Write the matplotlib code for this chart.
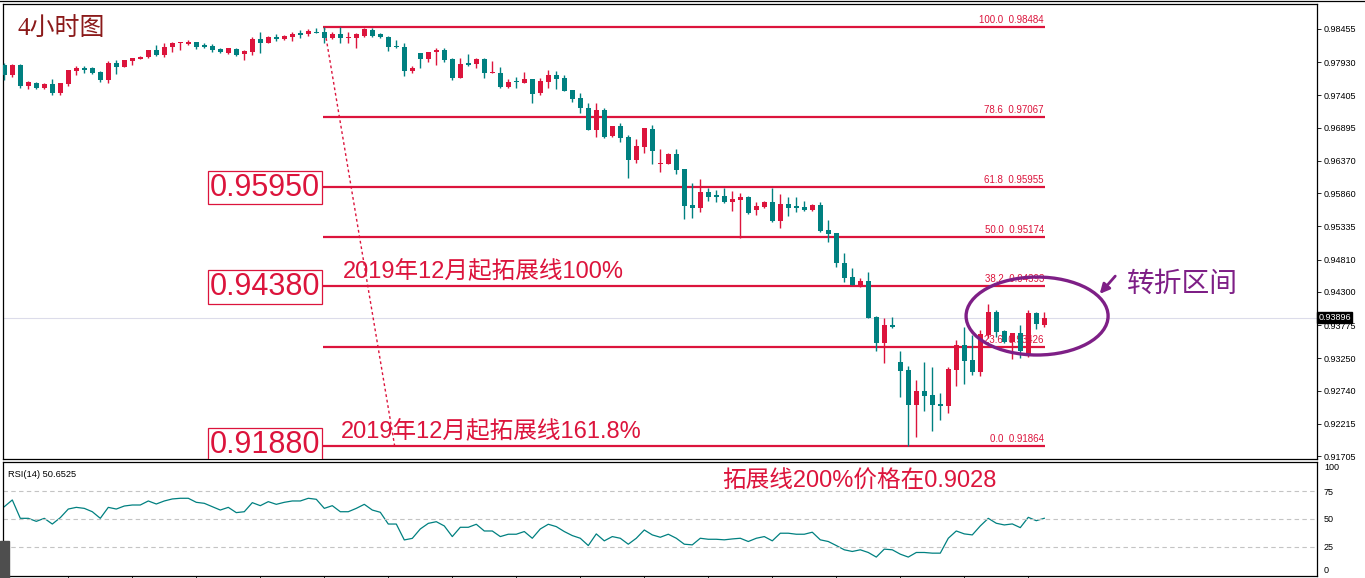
import numpy as np
import matplotlib.pyplot as plt
import matplotlib.transforms as mtransforms
from matplotlib.patches import Ellipse, FancyArrowPatch, Rectangle
from matplotlib.lines import Line2D

# 4H candles (oldest first)
opens = [0.97886, 0.97728, 0.97886, 0.97554, 0.97602, 0.97523, 0.97586, 0.97444, 0.97586, 0.97791,
         0.97823, 0.97839, 0.97775, 0.97649, 0.97918, 0.97854, 0.97949, 0.97981, 0.98012, 0.98123,
         0.98044, 0.98170, 0.98226, 0.98218, 0.98249, 0.98186, 0.98186, 0.98139, 0.98076, 0.98139,
         0.98060, 0.98091, 0.98297, 0.98234, 0.98328, 0.98297, 0.98328, 0.98376, 0.98376, 0.98407,
         0.98407, 0.98313, 0.98376, 0.98305, 0.98313, 0.98344, 0.98439, 0.98376, 0.98328, 0.98170,
         0.98170, 0.97791, 0.98076, 0.97981, 0.98091, 0.98123, 0.97981, 0.97681, 0.97902, 0.97902,
         0.97981, 0.97760, 0.97760, 0.97538, 0.97617, 0.97602, 0.97665, 0.97444, 0.97617, 0.97728,
         0.97681, 0.97491, 0.97365, 0.97207, 0.96859, 0.97175, 0.96764, 0.96922, 0.96749, 0.96385,
         0.96590, 0.96875, 0.96322, 0.96322, 0.96480, 0.96243, 0.95674, 0.95627, 0.95879, 0.95816,
         0.95816, 0.95721, 0.95753, 0.95800, 0.95595, 0.95642, 0.95721, 0.95421, 0.95690, 0.95642,
         0.95642, 0.95595, 0.95674, 0.95279, 0.95232, 0.94759, 0.94537, 0.94410, 0.94473, 0.93905,
         0.93494, 0.93778, 0.93193, 0.93067, 0.92515, 0.92735, 0.92672, 0.92531, 0.92499, 0.93067,
         0.93462, 0.93225, 0.93035, 0.93620, 0.93983, 0.93683, 0.93517, 0.93652, 0.93304, 0.93967,
         0.93778]
highs = [0.97918, 0.97902, 0.97902, 0.97633, 0.97617, 0.97602, 0.97665, 0.97602, 0.97807, 0.97870,
         0.97870, 0.97854, 0.97791, 0.97949, 0.97965, 0.97965, 0.97997, 0.98028, 0.98123, 0.98202,
         0.98234, 0.98249, 0.98249, 0.98281, 0.98249, 0.98234, 0.98218, 0.98155, 0.98155, 0.98155,
         0.98123, 0.98328, 0.98407, 0.98344, 0.98376, 0.98360, 0.98407, 0.98439, 0.98455, 0.98471,
         0.98484, 0.98407, 0.98480, 0.98407, 0.98392, 0.98471, 0.98471, 0.98392, 0.98344, 0.98281,
         0.98234, 0.97870, 0.98076, 0.98091, 0.98155, 0.98155, 0.97997, 0.97997, 0.98060, 0.97997,
         0.97997, 0.97949, 0.97854, 0.97665, 0.97696, 0.97775, 0.97665, 0.97681, 0.97807, 0.97791,
         0.97728, 0.97491, 0.97444, 0.97286, 0.97286, 0.97207, 0.96922, 0.96970, 0.96780, 0.96717,
         0.96891, 0.96938, 0.96559, 0.96496, 0.96559, 0.96243, 0.96022, 0.96085, 0.95943, 0.95911,
         0.95943, 0.95895, 0.95864, 0.95816, 0.95721, 0.95737, 0.95943, 0.95848, 0.95800, 0.95800,
         0.95737, 0.95690, 0.95721, 0.95437, 0.95232, 0.94915, 0.94679, 0.94521, 0.94615, 0.93921,
         0.93889, 0.93905, 0.93367, 0.93130, 0.92909, 0.93193, 0.93115, 0.92704, 0.93115, 0.93541,
         0.93747, 0.93620, 0.93699, 0.94110, 0.94015, 0.93699, 0.93652, 0.93778, 0.94015, 0.93983,
         0.93983]
lows = [0.97649, 0.97696, 0.97523, 0.97507, 0.97507, 0.97507, 0.97412, 0.97412, 0.97554, 0.97728,
        0.97760, 0.97744, 0.97617, 0.97602, 0.97744, 0.97854, 0.97886, 0.97981, 0.97997, 0.98028,
        0.98012, 0.98091, 0.98123, 0.98202, 0.98139, 0.98155, 0.98091, 0.98076, 0.98060, 0.98028,
        0.97965, 0.98044, 0.98076, 0.98234, 0.98265, 0.98281, 0.98265, 0.98313, 0.98344, 0.98392,
        0.98234, 0.98297, 0.98234, 0.98234, 0.98155, 0.98328, 0.98328, 0.98313, 0.98107, 0.98155,
        0.97712, 0.97760, 0.97839, 0.97933, 0.97886, 0.97933, 0.97649, 0.97681, 0.97870, 0.97839,
        0.97681, 0.97760, 0.97523, 0.97523, 0.97523, 0.97602, 0.97286, 0.97412, 0.97523, 0.97507,
        0.97475, 0.97301, 0.97128, 0.96859, 0.96749, 0.96733, 0.96749, 0.96669, 0.96101, 0.96338,
        0.96496, 0.96322, 0.96195, 0.96322, 0.96164, 0.95453, 0.95469, 0.95563, 0.95737, 0.95721,
        0.95706, 0.95579, 0.95153, 0.95532, 0.95516, 0.95627, 0.95405, 0.95311, 0.95500, 0.95563,
        0.95579, 0.95579, 0.95247, 0.95089, 0.94694, 0.94457, 0.94410, 0.94378, 0.93889, 0.93367,
        0.93177, 0.93731, 0.92640, 0.91864, 0.92008, 0.92420, 0.92105, 0.92277, 0.92389, 0.92814,
        0.92846, 0.92988, 0.92972, 0.93573, 0.93589, 0.93494, 0.93241, 0.93257, 0.93272, 0.93715,
        0.93747]
closes = [0.97728, 0.97886, 0.97554, 0.97617, 0.97523, 0.97586, 0.97444, 0.97602, 0.97807, 0.97839,
          0.97815, 0.97760, 0.97649, 0.97918, 0.97854, 0.97965, 0.97997, 0.98012, 0.98123, 0.98044,
          0.98170, 0.98234, 0.98234, 0.98249, 0.98170, 0.98178, 0.98123, 0.98091, 0.98155, 0.98044,
          0.98107, 0.98297, 0.98234, 0.98328, 0.98297, 0.98344, 0.98376, 0.98368, 0.98423, 0.98392,
          0.98313, 0.98376, 0.98313, 0.98313, 0.98376, 0.98455, 0.98344, 0.98328, 0.98170, 0.98163,
          0.97791, 0.97839, 0.97981, 0.98091, 0.98123, 0.97965, 0.97681, 0.97902, 0.97894, 0.97981,
          0.97760, 0.97768, 0.97538, 0.97617, 0.97610, 0.97665, 0.97428, 0.97633, 0.97728, 0.97665,
          0.97475, 0.97349, 0.97207, 0.96859, 0.97175, 0.96749, 0.96922, 0.96733, 0.96385, 0.96606,
          0.96891, 0.96527, 0.96338, 0.96480, 0.96227, 0.95658, 0.95627, 0.95879, 0.95800, 0.95808,
          0.95721, 0.95769, 0.95800, 0.95547, 0.95658, 0.95721, 0.95421, 0.95690, 0.95627, 0.95634,
          0.95595, 0.95674, 0.95263, 0.95216, 0.94759, 0.94521, 0.94410, 0.94473, 0.93889, 0.93494,
          0.93778, 0.93747, 0.93051, 0.92515, 0.92735, 0.92657, 0.92515, 0.92499, 0.93083, 0.93462,
          0.93209, 0.93035, 0.93636, 0.93983, 0.93667, 0.93517, 0.93652, 0.93367, 0.93967, 0.93794,
          0.93896]
rsi = [61.0, 67.0, 50.6, 50.6, 47.9, 50.6, 45.5, 51.2, 58.9, 60.4,
       59.5, 56.5, 50.6, 60.4, 58.9, 61.6, 62.5, 62.5, 66.1, 63.4,
       66.1, 67.9, 68.5, 68.5, 64.9, 64.0, 61.0, 58.0, 60.4, 55.7,
       56.5, 64.6, 61.9, 65.5, 63.1, 64.9, 66.1, 66.1, 68.5, 67.6,
       59.5, 61.9, 56.5, 56.5, 59.5, 63.1, 58.0, 56.0, 45.5, 45.5,
       31.3, 32.7, 41.1, 46.1, 47.6, 43.8,
       34.3, 42.6, 42.6, 45.3, 39.3, 39.3, 34.3, 36.4, 36.4, 38.8,
       32.8, 41.1, 45.3, 43.2, 38.8, 35.2, 32.8, 26.3, 36.7, 30.5,
       34.3, 32.8, 27.5, 32.8, 40.2, 35.8, 33.7, 36.4, 32.8, 27.5,
       26.9, 32.8, 31.9, 31.9, 31.4, 32.2, 32.8, 29.9, 32.8, 34.3,
       30.5, 37.3, 37.3, 36.4, 36.4, 38.2, 31.4, 29.9, 26.3, 22.5,
       21.0, 22.5, 20.1, 16.0, 23.1, 22.5, 18.6, 16.0, 20.1, 20.1,
       19.5, 19.5, 32.8, 39.3, 36.7, 35.8, 43.8, 50.6, 46.2, 44.7,
       45.6, 42.3, 51.5, 48.5, 50.65]

fib_levels = [100.0, 78.6, 61.8, 50.0, 38.2, 23.6, 0.0]
fib_prices = [0.98484, 0.97067, 0.95955, 0.95174, 0.94393, 0.93426, 0.91864]
price_ticks = [0.98455, 0.97930, 0.97405, 0.96895, 0.96370, 0.95860, 0.95335,
               0.94810, 0.94300, 0.93775, 0.93250, 0.92740, 0.92215, 0.91705]
box_levels = [0.95950, 0.94380, 0.91880]
last_price = 0.93896
rsi_last = 50.6525

RED = '#DC143C'
TEAL = '#008080'
PURPLE = '#7E1F86'
W, H = 1365, 578

o = np.array(opens); h = np.array(highs); l = np.array(lows); c = np.array(closes)
x = np.arange(len(o))
cols = np.where(c >= o, RED, TEAL)

fig = plt.figure(figsize=(W / 100, H / 100), dpi=100)
ax = fig.add_axes([3 / W, 119 / H, 1314 / W, 455 / H])
rax = fig.add_axes([3 / W, 2 / H, 1314 / W, 114 / H])

# candles
ax.vlines(x, l, h, colors=cols, lw=1, zorder=3)
body = np.maximum(np.abs(c - o), 0.00019)
ax.bar(x, body, bottom=np.minimum(o, c), width=0.64, color=cols, lw=0, zorder=4)

# current price line
ax.axhline(last_price, color='#dcdcea', lw=0.8, zorder=1)

# fibonacci levels
f0, f1 = 40, len(o) - 1
for lv, p in zip(fib_levels, fib_prices):
    ax.hlines(p, f0 - 0.2, f1 + 0.1, color=RED, lw=1.6, zorder=2)
    ax.text(f1 - 0.05, p + 0.0003, f'{lv:.1f}  {p:.5f}', ha='right', va='bottom',
            fontsize=7, color=RED, family='Liberation Sans', zorder=2.5)
ax.plot([f0, 48.8], [fib_prices[0], fib_prices[-1]], color=RED, lw=1,
        ls=(0, (2, 2)), zorder=2)

# boxed price labels
for v in box_levels:
    ax.text(32.6, v, f'{v:.5f}', ha='center', va='center', fontsize=22, color=RED,
            family='Liberation Sans', zorder=5, clip_on=True,
            bbox=dict(boxstyle='square,pad=0.06', fc='white', ec=RED, lw=0.9))

cjk = ['Liberation Sans', 'Noto Sans CJK SC']
ax.text(42.3, 0.94615, '2019年12月起拓展线100%', fontsize=17, color=RED,
        family=cjk, va='center', ha='left', zorder=5)
ax.text(42.1, 0.92087, '2019年12月起拓展线161.8%', fontsize=17, color=RED,
        family=cjk, va='center', ha='left', zorder=5)
ax.text(1.7, 0.98455, '4小时图', fontsize=18, color='#8B1A1A',
        family=['Liberation Serif', 'Noto Sans CJK SC'], va='center', ha='left')
ax.text(140.3, 0.94426, '转折区间', fontsize=20, color=PURPLE,
        family='Noto Sans CJK SC', va='center', ha='left')

ax.add_patch(Ellipse((129.1, 0.93920), 17.75, 0.01232, fill=False, ec=PURPLE,
                     lw=2.4, zorder=6))
ax.add_patch(FancyArrowPatch((139.1, 0.94584), (136.7, 0.94237), arrowstyle='-|>',
                             mutation_scale=14, color=PURPLE, lw=2, zorder=6))

ax.set_xlim(-0.1625, 164.09)
ax.set_ylim(0.91661, 0.98850)
ax.set_xticks([])
ax.yaxis.tick_right()
ax.set_yticks(price_ticks)
ax.set_yticklabels([f'{v:.5f}' for v in price_ticks], family='Liberation Sans')
ax.tick_params(axis='y', length=3, width=0.6, pad=2, labelsize=6.5)

trans = mtransforms.blended_transform_factory(ax.transAxes, ax.transData)
ax.text(1.001, last_price, f'{last_price:.5f}', transform=trans, ha='left', va='center',
        fontsize=6.5, color='white', family='Liberation Sans', zorder=7,
        bbox=dict(boxstyle='square,pad=0.15', fc='black', ec='black'))

# RSI panel
rax.plot(x, rsi, color=TEAL, lw=0.9)
for lv in (75, 50, 25):
    rax.axhline(lv, color='#c4c4c4', lw=0.8, ls=(0, (4, 3)))
rax.set_xlim(-0.1625, 164.09)
rax.set_ylim(-0.9, 100.9)
rax.yaxis.tick_right()
rax.set_yticks([100, 75, 50, 25, 0])
rax.set_yticklabels(['100', '75', '50', '25', '0'], family='Liberation Sans')
rax.tick_params(axis='y', length=0, pad=5, labelsize=6.5)
labs = rax.get_yticklabels()
labs[0].set_verticalalignment('top')
labs[-1].set_verticalalignment('bottom')
rax.set_xticks(np.arange(8, len(o), 8))
rax.set_xticklabels([])
rax.tick_params(axis='x', length=3, width=0.6, direction='out')
rax.text(0.004, 0.93, f'RSI(14) {rsi_last:.4f}', transform=rax.transAxes, fontsize=6.7,
         family='Liberation Sans', va='top', ha='left')
rax.text(89.8, 83, '拓展线200%价格在0.9028', fontsize=17, color=RED, family=cjk,
         va='center', ha='left')

for a in (ax, rax):
    for s in a.spines.values():
        s.set_color('black')
        s.set_linewidth(0.9)

fig.add_artist(Line2D([0, 1], [1 - 1.2 / H] * 2, color='black', lw=0.9))
fig.add_artist(Rectangle((0, 0), 9 / W, 37 / H, transform=fig.transFigure,
                         color='#4e4e4e', zorder=10))

fig.savefig('out.png', dpi=100)
